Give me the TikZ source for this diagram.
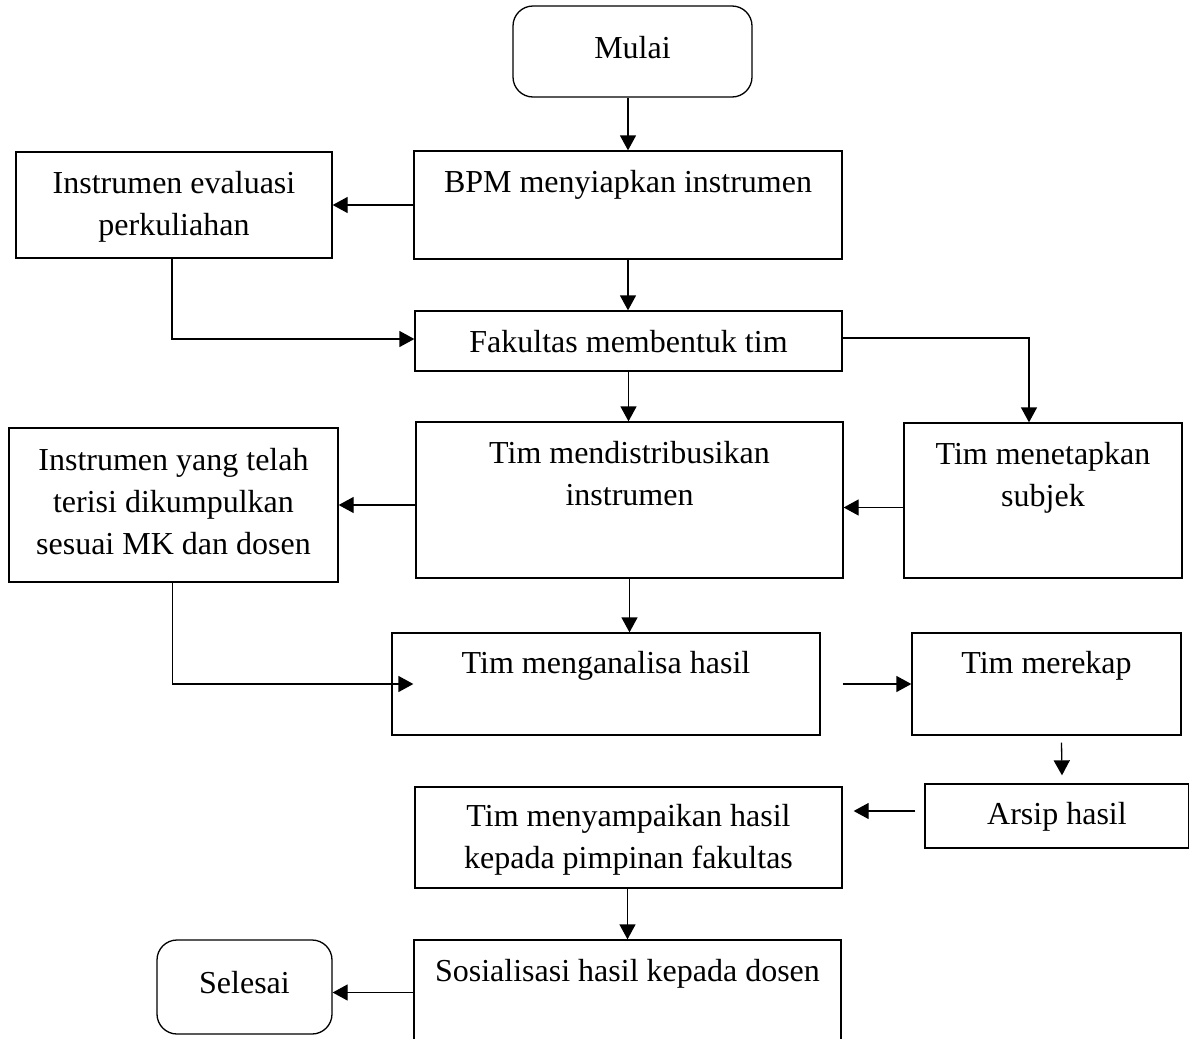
\documentclass[tikz,border=0pt]{standalone}
\usepackage{fontspec}
\setmainfont{Liberation Serif}
\usetikzlibrary{arrows.meta,calc}
\begin{document}
\begin{tikzpicture}[x=1pt,y=-1pt,
  box/.style={draw, line width=1.3pt, inner sep=0pt},
  rbox/.style={box, rounded corners=20pt},
  txt/.style={anchor=north, inner sep=0pt, align=center, font=\fontsize{32}{42}\selectfont},
  arr/.style={line width=1.3pt, -{Triangle[length=15pt,width=16pt]}}]
\useasboundingbox (0,0) rectangle (1189,1039);
\newcommand{\mkbox}[6]{\node[#6, minimum width={#4-#2}, minimum height={#5-#3}] (#1) at ({(#2+#4)/2},{(#3+#5)/2}) {};}
\mkbox{mulai}{513}{6}{752}{97}{rbox}
\mkbox{bpm}{414}{151}{842}{259}{box}
\mkbox{ieval}{16}{152}{332}{258}{box}
\mkbox{fak}{415}{311}{842}{371}{box}
\mkbox{tetap}{904}{423}{1182}{578}{box}
\mkbox{dist}{416}{422}{843}{578}{box}
\mkbox{isi}{9}{428}{338}{582}{box}
\mkbox{anal}{392}{633}{820}{735}{box}
\mkbox{rekap}{912}{633}{1181}{735}{box}
\mkbox{arsip}{925}{784}{1189}{848}{box}
\mkbox{samp}{415}{787}{842}{888}{box}
\mkbox{sos}{414}{940}{841}{1045}{box}
\mkbox{selesai}{157}{940}{332}{1034}{rbox}

\newcommand{\strt}{\rule{0pt}{25pt}}
\node[txt] (tmulai) at ($(mulai.north)+(0,28)$) {\strt Mulai};
\node[txt] (tbpm) at ($(bpm.north)+(0,17)$) {\strt BPM menyiapkan instrumen};
\node[txt] (tieval) at ($(ieval.north)+(0,17)$) {\strt Instrumen evaluasi\\perkuliahan};
\node[txt] (tfak) at ($(fak.north)+(0,17)$) {\strt Fakultas membentuk tim};
\node[txt] (ttetap) at ($(tetap.north)+(0,17)$) {\strt Tim menetapkan\\subjek};
\node[txt] (tdist) at ($(dist.north)+(0,17)$) {\strt Tim mendistribusikan\\instrumen};
\node[txt] (tisi) at ($(isi.north)+(0,18)$) {\strt Instrumen yang telah\\terisi dikumpulkan\\sesuai MK dan dosen};
\node[txt] (tanal) at ($(anal.north)+(0,16)$) {\strt Tim menganalisa hasil};
\node[txt] (trekap) at ($(rekap.north)+(0,16)$) {\strt Tim merekap};
\node[txt] (tarsip) at ($(arsip.north)+(0,16)$) {\strt Arsip hasil};
\node[txt] (tsamp) at ($(samp.north)+(0,15)$) {\strt Tim menyampaikan hasil\\kepada pimpinan fakultas};
\node[txt] (tsos) at ($(sos.north)+(0,17)$) {\strt Sosialisasi hasil kepada dosen};
\node[txt] (tselesai) at ($(selesai.north)+(0,29)$) {\strt Selesai};

\draw[arr] (mulai.south -| bpm.north) -- (bpm.north);
\draw[arr] (bpm.west) -- (bpm.west -| ieval.east);
\draw[arr] (bpm.south) -- (bpm.south |- fak.north);
\draw[arr] ($(ieval.south)+(-2,0)$) |- ($(fak.west)+(0,-2)$);
\draw[arr] ($(fak.east)+(0,-3)$) -| ($(tetap.north)+(-14,0)$);
\draw[arr] (fak.south) -- (fak.south |- dist.north);
\draw[arr] ($(tetap.west)+(0,7)$) -- ($(tetap.west -| dist.east)+(0,7)$);
\draw[arr] (dist.west |- isi.east) -- (isi.east);
\draw[arr] ($(isi.south)+(-1,0)$) |- ($(anal.west)+(22,0)$);
\draw[arr] (dist.south) -- (dist.south |- anal.north);
\draw[arr] ($(anal.east)+(22,0)$) -- (rekap.west);
\draw[arr] ($(rekap.south)+(15,7)$) -- ($(arsip.north)+(5,-8)$);
\draw[arr] ($(arsip.west)+(-9,-5)$) -- ($(samp.east |- arsip.west)+(11,-5)$);
\draw[arr] (samp.south -| sos.north) -- (sos.north);
\draw[arr] (sos.west) -- (sos.west -| selesai.east);
\end{tikzpicture}
\end{document}
